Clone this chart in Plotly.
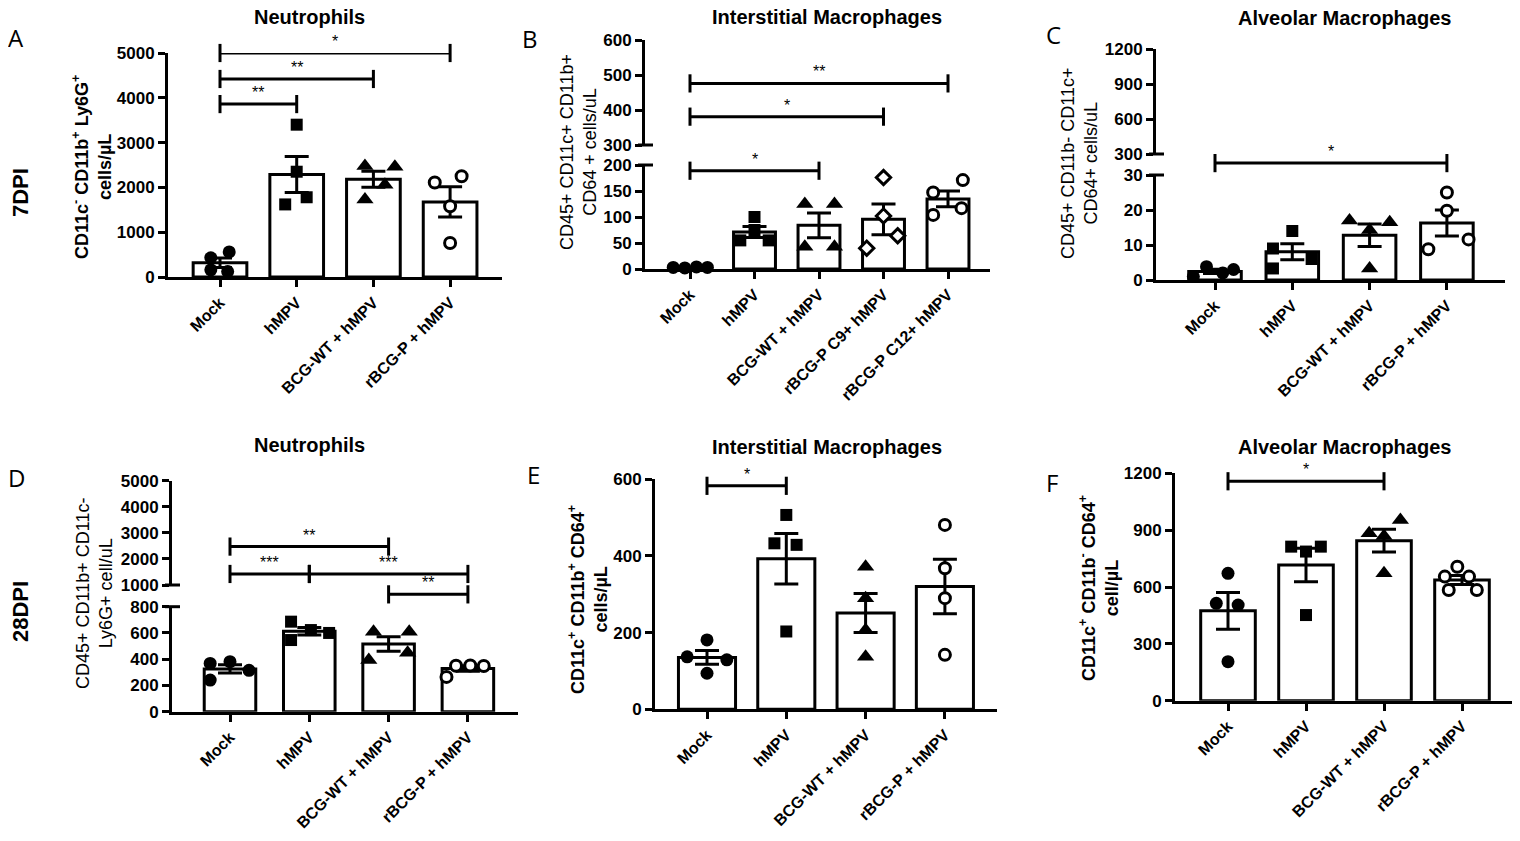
import numpy as np
import plotly.graph_objects as go

W, H = 1520, 841
PAD = 8  # page body margin: the figure is shrunk by it so the page fits the window exactly
FW, FH = W - 2 * PAD, H - 2 * PAD
FONT = "Liberation Sans, Arial, sans-serif"

GROUPS = ["Mock", "hMPV", "BCG-WT + hMPV", "rBCG-P + hMPV"]
GROUPS_B = ["Mock", "hMPV", "BCG-WT + hMPV", "rBCG-P C9+ hMPV", "rBCG-P C12+ hMPV"]

# cells/uL, one value per mouse, one list per group
neut_7dpi = [[430, 560, 160, 120], [3400, 2350, 1620, 1780], [2480, 2460, 2060, 1730], [2250, 2110, 1580, 760]]
im_7dpi = [[3, 2, 4, 3], [100, 75, 55, 55], [125, 125, 43, 43], [176, 102, 40, 64], [147, 171, 104, 117]]
am_7dpi = [[1.0, 3.8, 2.0, 3.0], [14, 9, 6, 3.3], [17, 16.5, 14.3, 3.3], [25, 19.8, 8.8, 11.6]]
neut_28dpi = [[368, 381, 315, 241], [686, 546, 622, 600], [610, 610, 394, 450], [265, 350, 352, 348]]
im_28dpi = [[181, 137, 129, 94], [507, 433, 429, 203], [372, 290, 207, 137], [481, 368, 290, 142]]
am_28dpi = [[672, 514, 505, 206], [813, 813, 787, 452], [954, 883, 869, 672], [707, 655, 655, 584, 584]]

# significance brackets: (from group, to group, height, stars)
sig_neut_7dpi = [(0, 1, 3860, "**"), (0, 2, 4420, "**"), (0, 3, 5000, "*")]
sig_im_7dpi = [(0, 2, 189, "*"), (0, 3, 381, "*"), (0, 4, 476, "**")]
sig_am_7dpi = [(0, 3, 33.4, "*")]
sig_neut_28dpi = [(0, 1, 1423, "***"), (1, 3, 1423, "***"), (0, 2, 2473, "**"), (2, 3, 894, "**")]
sig_im_28dpi = [(0, 1, 583, "*")]
sig_am_28dpi = [(0, 2, 1158, "*")]

# horizontal spread of the dots inside each bar (category units)
spread_neut_7dpi = [[-0.12, 0.12, -0.12, 0.1], [0, 0, -0.15, 0.13], [-0.11, 0.28, 0.15, -0.11], [0.15, -0.2, 0, 0]]
spread_im_7dpi = [[-0.26, -0.08, 0.1, 0.27], [0, 0, -0.22, 0.22], [-0.22, 0.24, -0.22, 0.24],
                  [0, 0, -0.26, 0.22], [-0.23, 0.23, -0.23, 0.21]]
spread_am_7dpi = [[-0.28, -0.11, 0.1, 0.24], [0, -0.25, 0.25, -0.25], [-0.26, 0.26, 0, 0], [0, 0, -0.24, 0.28]]
spread_neut_28dpi = [[-0.25, 0, 0.24, -0.25], [-0.23, -0.23, 0.02, 0.25], [-0.19, 0.26, -0.25, 0.24],
                     [-0.27, -0.15, 0.03, 0.2]]
spread_im_28dpi = [[0, -0.25, 0.25, 0], [0, -0.15, 0.13, 0], [0, 0, 0, 0], [0, 0, 0, 0]]
spread_am_28dpi = [[0, -0.15, 0.13, 0], [-0.19, 0.19, 0, 0], [0.21, -0.19, 0, 0], [-0.06, -0.22, 0.09, -0.17, 0.19]]

# (symbol, fill) per group
MARKS = [("circle", "black"), ("square", "black"), ("triangle-up", "black"), ("circle", "white")]
MARKS_B = [("circle", "black"), ("square", "black"), ("triangle-up", "black"), ("diamond", "white"), ("circle", "white")]

panels = [
    dict(title="Neutrophils", letter="A", groups=GROUPS, vals=neut_7dpi, sig=sig_neut_7dpi,
         spread=spread_neut_7dpi, marks=MARKS, xpx=(168, 502), first=220, step=76.7, barw=0.7,
         low=(53, 277, 0, 5000, 1000), up=None,
         ylab="<b>CD11c<sup>-</sup> CD11b<sup>+</sup> Ly6G<sup>+</sup><br>cells/µL</b>", ylab_xy=(92, 167),
         title_xy=(309, 17), letter_xy=(16, 37)),
    dict(title="Interstitial Macrophages", letter="B", groups=GROUPS_B, vals=im_7dpi, sig=sig_im_7dpi,
         spread=spread_im_7dpi, marks=MARKS_B, xpx=(645, 990), first=690, step=64.5, barw=0.65,
         low=(165, 269, 0, 200, 50), up=(40, 145, 300, 600, 100),
         ylab="CD45+ CD11c+ CD11b+<br>CD64 + cells/uL", ylab_xy=(578, 152),
         title_xy=(827, 17), letter_xy=(530, 38)),
    dict(title="Alveolar Macrophages", letter="C", groups=GROUPS, vals=am_7dpi, sig=sig_am_7dpi,
         spread=spread_am_7dpi, marks=MARKS, xpx=(1156, 1505), first=1215, step=77.3, barw=0.68,
         low=(175, 280, 0, 30, 10), up=(49, 154, 300, 1200, 300),
         ylab="CD45+ CD11b- CD11c+<br>CD64+ cells/uL", ylab_xy=(1079, 164),
         title_xy=(1344, 18), letter_xy=(1053, 35)),
    dict(title="Neutrophils", letter="D", groups=GROUPS, vals=neut_28dpi, sig=sig_neut_28dpi,
         spread=spread_neut_28dpi, marks=MARKS, xpx=(172, 518), first=230, step=79.3, barw=0.65,
         low=(606.7, 711.7, 0, 800, 200), up=(480.7, 585, 1000, 5000, 1000),
         ylab="CD45+ CD11b+ CD11c-<br>Ly6G+ cell/uL", ylab_xy=(94, 594),
         title_xy=(309, 445), letter_xy=(16, 477)),
    dict(title="Interstitial Macrophages", letter="E", groups=GROUPS, vals=im_28dpi, sig=sig_im_28dpi,
         spread=spread_im_28dpi, marks=MARKS, xpx=(655, 997), first=707, step=79.3, barw=0.72,
         low=(479.3, 709.3, 0, 600, 200), up=None,
         ylab="<b>CD11c<sup>+</sup> CD11b<sup>+</sup> CD64<sup>+</sup><br>cells/µL</b>", ylab_xy=(588, 600),
         title_xy=(827, 447), letter_xy=(533, 474)),
    dict(title="Alveolar Macrophages", letter="F", groups=GROUPS, vals=am_28dpi, sig=sig_am_28dpi,
         spread=spread_am_28dpi, marks=MARKS, xpx=(1175, 1512), first=1228, step=78, barw=0.7,
         low=(473.3, 700.7, 0, 1200, 300), up=None,
         ylab="<b>CD11c<sup>+</sup> CD11b<sup>-</sup> CD64<sup>+</sup><br>cell/µL</b>", ylab_xy=(1099, 588),
         title_xy=(1344, 447), letter_xy=(1052, 482)),
]

AX = dict(showline=True, linewidth=3, linecolor="black", ticks="outside", ticklen=7, tickwidth=3,
          tickcolor="black", showgrid=False, zeroline=False, fixedrange=True, automargin=False)
YTICKS = dict(family=FONT, size=17, color="black", weight="bold")
XTICKS = dict(family=FONT, size=16, color="black", weight="bold")


def fx(px):
    return min(1.0, max(0.0, (px - PAD) / FW))


def fy(px):
    return min(1.0, max(0.0, 1 - (px - PAD) / FH))


def name(kind, i):
    return kind if i == 1 else f"{kind}{i}"


fig = go.Figure()
lay = dict(width=FW, height=FH, margin=dict(l=0, r=0, t=0, b=0, autoexpand=False), paper_bgcolor="white",
           plot_bgcolor="rgba(0,0,0,0)", showlegend=False, hovermode=False)
annotations, shapes = [], []
nx = ny = 0

for p in panels:
    nx += 1
    xa = name("x", nx)
    ny += 1
    ylo = name("y", ny)
    yup = ygap = None
    n = len(p["groups"])
    x0, x1 = p["xpx"]
    lay["xaxis" + xa[1:]] = dict(domain=[fx(x0), fx(x1)],
                                 range=[(x0 - p["first"]) / p["step"], (x1 - p["first"]) / p["step"]],
                                 anchor=ylo, tickvals=list(range(n)), ticktext=p["groups"], tickangle=-45,
                                 tickfont=XTICKS, **AX)
    t, b, r0, r1, dt = p["low"]
    lay["yaxis" + ylo[1:]] = dict(domain=[fy(b), fy(t)], range=[r0, r1], dtick=dt, tick0=0, anchor=xa,
                                  tickfont=YTICKS, **AX)
    if p["up"]:
        t2, b2, u0, u1, dt2 = p["up"]
        ny += 1
        yup = name("y", ny)
        lay["yaxis" + yup[1:]] = dict(domain=[fy(b2), fy(t2)], range=[u0, u1], dtick=dt2, tick0=0, anchor=xa,
                                      tickfont=YTICKS, **AX)
        fig.add_trace(go.Scatter(x=[], y=[], xaxis=xa, yaxis=yup))
        # hidden axis: the lower scale carried up through the break, for brackets drawn in the gap
        ny += 1
        ygap = name("y", ny)
        lay["yaxis" + ygap[1:]] = dict(domain=[fy(b), fy(t2)], range=[r0, r0 + (r1 - r0) * (b - t2) / (b - t)],
                                       anchor=xa, visible=False, fixedrange=True)
        # axis break marks
        for yref, yy in ((yup + " domain", 0), (ylo + " domain", 1)):
            shapes.append(dict(type="line", xref=xa + " domain", yref=yref, xsizemode="pixel", xanchor=0,
                               x0=-7, x1=8, y0=yy, y1=yy, line=dict(color="black", width=3)))

    means = [np.mean(v) for v in p["vals"]]
    sems = [np.std(v, ddof=1) / np.sqrt(len(v)) for v in p["vals"]]
    fig.add_trace(go.Bar(x=list(range(n)), y=means, width=p["barw"], xaxis=xa, yaxis=ylo, cliponaxis=False,
                         marker=dict(color="white", line=dict(color="black", width=3)),
                         error_y=dict(type="data", array=sems, visible=True, color="black", thickness=3, width=12)))

    for g, vals in enumerate(p["vals"]):
        sym, fill = p["marks"][g]
        size = {"circle": 13, "square": 12, "triangle-up": 15, "diamond": 13}[sym]
        if fill == "white":
            size -= 2
        fig.add_trace(go.Scatter(
            x=[g + o for o in p["spread"][g]], y=vals, mode="markers", xaxis=xa, yaxis=ylo, cliponaxis=False,
            marker=dict(symbol=sym, size=size, color=fill,
                        line=dict(color="black", width=3 if fill == "white" else 0))))

    for i, j, h, lab in p["sig"]:
        if yup and h >= p["up"][2]:
            ya = yup
        elif ygap and h > r1:
            ya = ygap
        else:
            ya = ylo
        fig.add_trace(go.Scatter(
            x=[i, j], y=[h, h], mode="lines+markers", xaxis=xa, yaxis=ya, cliponaxis=False,
            line=dict(color="black", width=3),
            marker=dict(symbol="line-ns", size=13, line=dict(color="black", width=3))))
        annotations.append(dict(x=(i + j) / 2, y=h, xref=xa, yref=ya, text=lab, showarrow=False,
                                yanchor="bottom", yshift=1, font=dict(family=FONT, size=16, color="black")))

    tx, ty = p["title_xy"]
    annotations.append(dict(x=fx(tx), y=fy(ty), xref="paper", yref="paper", text="<b>" + p["title"] + "</b>",
                            showarrow=False, xanchor="center", yanchor="middle",
                            font=dict(family=FONT, size=20, color="black")))
    lx, ly = p["letter_xy"]
    annotations.append(dict(x=fx(lx), y=fy(ly), xref="paper", yref="paper", text=p["letter"],
                            showarrow=False, xanchor="center", yanchor="middle",
                            font=dict(family="Open Sans", size=24, color="black")))
    ax_, ay_ = p["ylab_xy"]
    annotations.append(dict(x=fx(ax_), y=fy(ay_), xref="paper", yref="paper", text=p["ylab"],
                            showarrow=False, textangle=-90, xanchor="center", yanchor="middle",
                            font=dict(family=FONT, size=18, color="black")))

for label, (rx, ry) in (("7DPI", (20, 192)), ("28DPI", (20, 612))):
    annotations.append(dict(x=fx(rx), y=fy(ry), xref="paper", yref="paper", text="<b>" + label + "</b>",
                            showarrow=False, textangle=-90, xanchor="center", yanchor="middle",
                            font=dict(family=FONT, size=22, color="black")))

lay["annotations"] = annotations
lay["shapes"] = shapes
fig.update_layout(**lay)
fig.write_html("out.html")
